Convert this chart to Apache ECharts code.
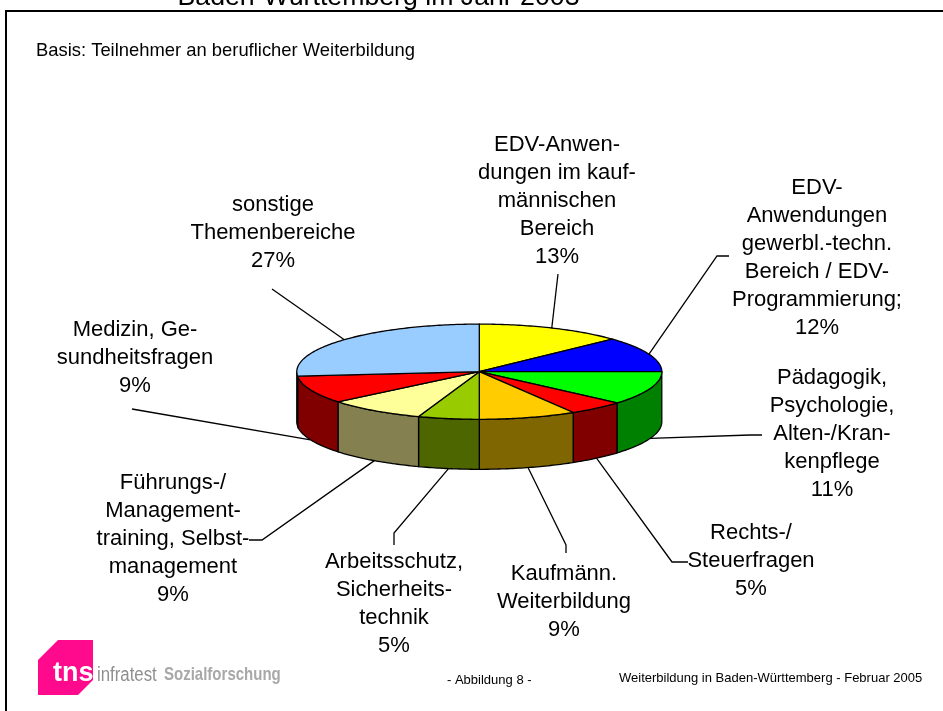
<!DOCTYPE html>
<html>
<head>
<meta charset="utf-8">
<style>html,body{margin:0;padding:0;background:#fff}#c{width:943px;height:711px}</style>
<script src="https://cdn.jsdelivr.net/npm/echarts@6/dist/echarts.min.js"></script>
</head>
<body>
<div id="c"></div>
<script>
// --- data ---
const categories = [
  'EDV-Anwen-\ndungen im kauf-\nmännischen\nBereich',
  'EDV-\nAnwendungen\ngewerbl.-techn.\nBereich / EDV-\nProgrammierung;',
  'Pädagogik,\nPsychologie,\nAlten-/Kran-\nkenpflege',
  'Rechts-/\nSteuerfragen',
  'Kaufmänn.\nWeiterbildung',
  'Arbeitsschutz,\nSicherheits-\ntechnik',
  'Führungs-/\nManagement-\ntraining, Selbst-\nmanagement',
  'Medizin, Ge-\nsundheitsfragen',
  'sonstige\nThemenbereiche'
];
const percentLabels = ['13%', '12%', '11%', '5%', '9%', '5%', '9%', '9%', '27%'];
const values = [13, 12, 11.4, 5, 8.6, 5.4, 8.7, 9.4, 26.5];

// --- styles / layout ---
const topColors = ['#FFFF00', '#0000FF', '#00FF00', '#FF0000', '#FFCC00', '#99CC00', '#FFFF99', '#FF0000', '#99CCFF'];
const sideColors = ['#808000', '#000080', '#008000', '#800000', '#806600', '#4D6600', '#85804F', '#800000', '#800000'];
const labelCenters = [[557, 201], [817, 258], [832, 434], [751, 561], [564, 602], [394, 604], [173, 539], [135, 358], [273, 233]];
const leaderPaths = [
  [[558, 274]],
  [[717, 256], [729, 256]],
  [[750, 435], [762, 435]],
  [[672, 562], [688, 562]],
  [[566, 545], [566, 553]],
  [[394, 533], [394, 545]],
  [[262, 540], [249, 540]],
  [[132, 409]],
  [[272, 289]]
];
const PIE = { cx: 479.3, cy: 371.7, rx: 182.5, ry: 47.6, depth: 50 };
const squash = PIE.ry / PIE.rx;
const FONT = '"Liberation Sans", Arial, sans-serif';

let cum = 0;
const seriesData = values.map(v => { const r = [cum, cum + v]; cum += v; return r; });

function renderSlice(params, api) {
  const i = params.dataIndex;
  const a0 = api.value(0), a1 = api.value(1);
  const pt = (r, pct, dy) => {
    const p = api.coord([r, pct]);
    return [p[0], PIE.cy + (p[1] - PIE.cy) * squash + (dy || 0)];
  };
  const arc = (from, to, dy) => {
    const out = [];
    const n = Math.max(2, Math.ceil((to - from) / 0.25));
    for (let k = 0; k <= n; k++) out.push(pt(1, from + (to - from) * k / n, dy));
    return out;
  };
  const children = [];
  const s0 = Math.max(a0, 25), s1 = Math.min(a1, 75);
  if (s1 > s0) {
    const side = arc(s0, s1, 0).concat(arc(s0, s1, PIE.depth).reverse());
    children.push({ type: 'polygon', shape: { points: side },
      style: { fill: sideColors[i], stroke: '#000', lineWidth: 1.3 } });
  }
  const top = [pt(0, a0)].concat(arc(a0, a1, 0));
  children.push({ type: 'polygon', shape: { points: top },
    style: { fill: topColors[i], stroke: '#000', lineWidth: 1.3 } });

  const mid = (a0 + a1) / 2;
  const anchor = pt(1, mid, (mid > 25 && mid < 75) ? PIE.depth : 0);
  children.push({ type: 'polyline', shape: { points: [anchor].concat(leaderPaths[i]) },
    style: { fill: null, stroke: '#000', lineWidth: 1.3 } });
  children.push({ type: 'text', style: {
    text: categories[i] + '\n' + percentLabels[i],
    x: labelCenters[i][0], y: labelCenters[i][1],
    textAlign: 'center', textVerticalAlign: 'middle',
    fontFamily: FONT, fontSize: 22, lineHeight: 28, fill: '#000'
  } });
  return { type: 'group', children };
}

const chart = echarts.init(document.getElementById('c'), null, { renderer: 'canvas' });
chart.setOption({
  animation: false,
  backgroundColor: '#fff',
  polar: { center: [PIE.cx, PIE.cy], radius: [0, PIE.rx] },
  angleAxis: { type: 'value', min: 0, max: 100, startAngle: 90, clockwise: true, show: false },
  radiusAxis: { type: 'value', min: 0, max: 1, show: false },
  series: [{
    type: 'custom', coordinateSystem: 'polar', silent: true,
    data: seriesData, renderItem: renderSlice, clip: false, z: 5
  }],
  graphic: [
    { type: 'text', z: 1, style: { text: 'Baden-Württemberg im Jahr 2003', x: 378.5, y: 11,
      textAlign: 'center', textVerticalAlign: 'bottom', fontFamily: FONT, fontSize: 26.7, fill: '#000' } },
    { type: 'polyline', z: 2, shape: { points: [[6, 711], [6, 11], [943, 11]] },
      style: { fill: null, stroke: '#000', lineWidth: 2 } },
    { type: 'text', z: 2, style: { text: 'Basis: Teilnehmer an beruflicher Weiterbildung', x: 36, y: 51,
      textAlign: 'left', textVerticalAlign: 'middle', fontFamily: FONT, fontSize: 18.4, fill: '#000' } },
    { type: 'polygon', z: 2, shape: { points: [[38, 660], [58, 640], [93, 640], [93, 680], [78, 695], [38, 695]] },
      style: { fill: '#FF0A8C' } },
    { type: 'text', z: 3, style: { text: 'tns', x: 53, y: 674,
      textAlign: 'left', textVerticalAlign: 'middle', fontFamily: FONT, fontSize: 27, fontWeight: 'bold', fill: '#fff' } },
    { type: 'text', z: 3, x: 97, y: 675, scaleX: 0.84, style: { text: 'infratest', x: 0, y: 0,
      textAlign: 'left', textVerticalAlign: 'middle', fontFamily: FONT, fontSize: 20, fill: '#8f8f8f' } },
    { type: 'text', z: 3, x: 164, y: 675, scaleX: 0.79, style: { text: 'Sozialforschung', x: 0, y: 0,
      textAlign: 'left', textVerticalAlign: 'middle', fontFamily: FONT, fontSize: 19, fontWeight: 'bold', fill: '#a8a8a8' } },
    { type: 'text', z: 2, style: { text: '- Abbildung 8 -', x: 447, y: 680,
      textAlign: 'left', textVerticalAlign: 'middle', fontFamily: FONT, fontSize: 13, fill: '#000' } },
    { type: 'text', z: 2, style: { text: 'Weiterbildung in Baden-Württemberg - Februar 2005', x: 619, y: 678,
      textAlign: 'left', textVerticalAlign: 'middle', fontFamily: FONT, fontSize: 13, fill: '#000' } }
  ]
});
</script>
</body>
</html>
